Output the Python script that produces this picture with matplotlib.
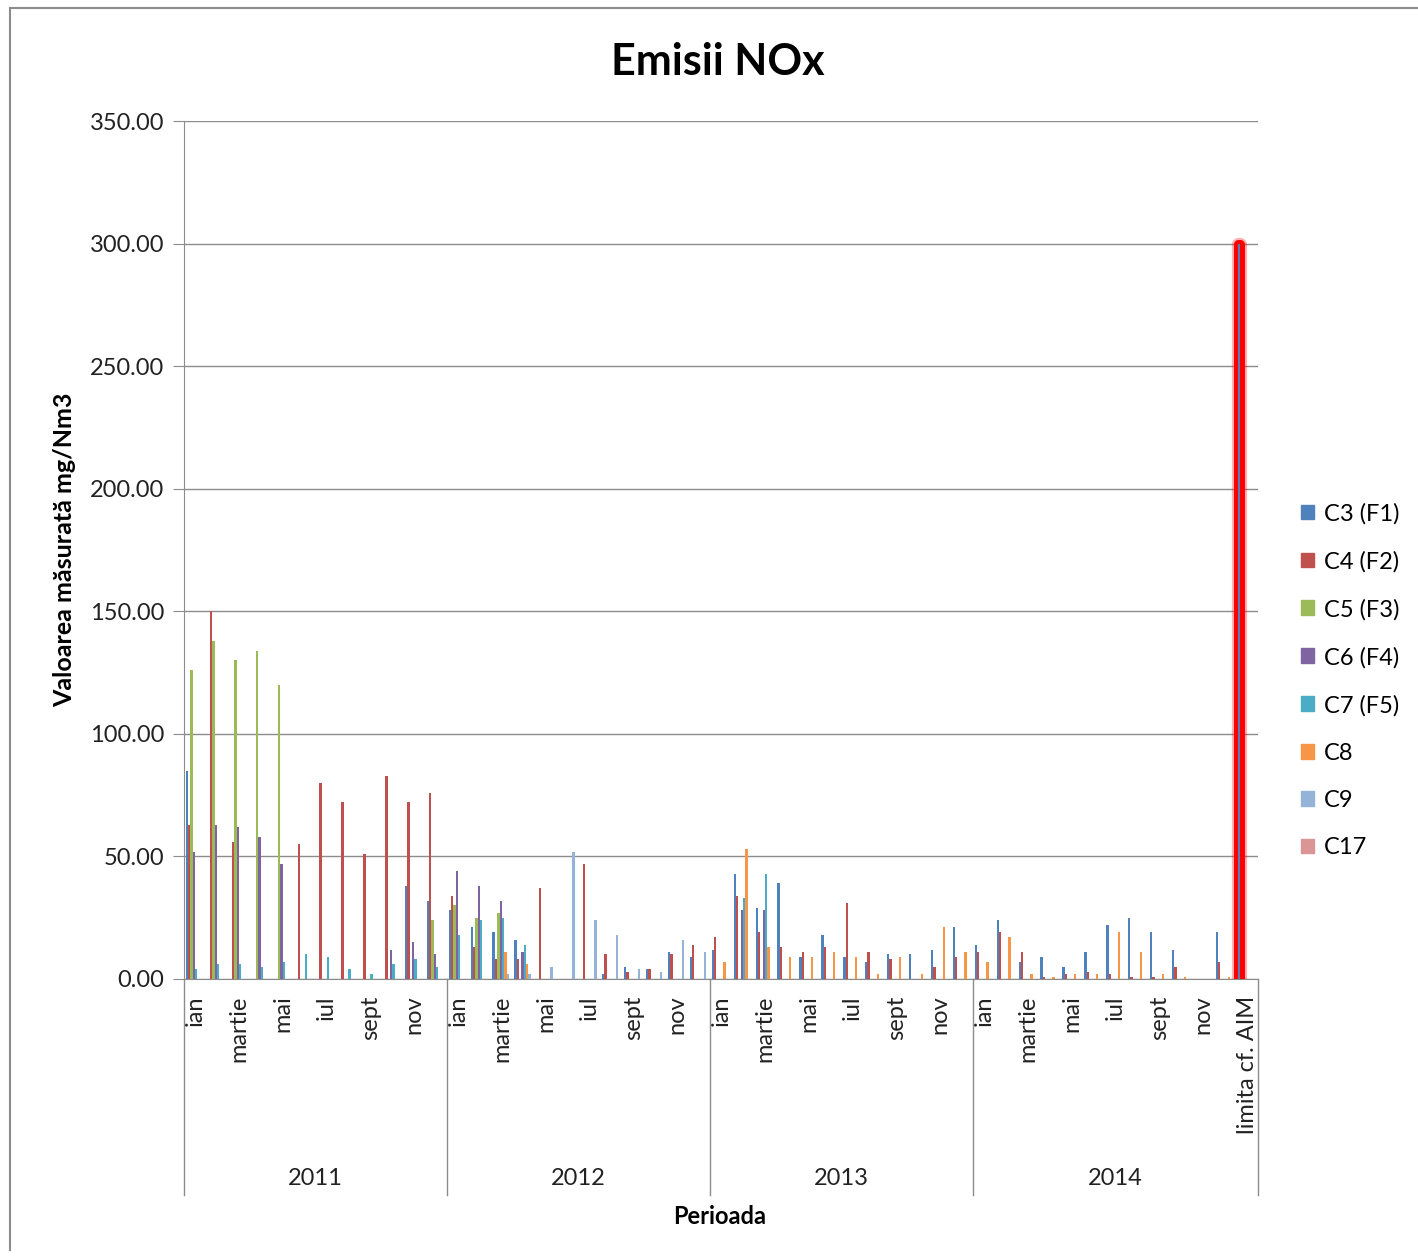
import numpy as np
import matplotlib
matplotlib.use('Agg')
import matplotlib.pyplot as plt
import matplotlib.patheffects as pe
from matplotlib.patches import Patch

plt.rcParams['font.family'] = ['Lato', 'DejaVu Sans']

years = ['2011', '2012', '2013', '2014']
luni = ['ian', 'feb', 'martie', 'apr', 'mai', 'iun', 'iul', 'aug', 'sept', 'oct', 'nov', 'dec']
limita_label = 'limita cf. AIM'

serii = ['C3 (F1)', 'C4 (F2)', 'C5 (F3)', 'C6 (F4)', 'C7 (F5)', 'C8', 'C9', 'C17']
culori = ['#4F81BD', '#C0504D', '#9BBB59', '#8064A2', '#4BACC6', '#F79646', '#95B3D7', '#D99694']

# valori lunare 2011..2014 (48 luni) + limita AIM la final
c3 = [85, 0, 0, 0, 0, 0, 0, 0, 0, 0, 38, 32,
      28, 21, 19, 16, 0, 0, 0, 2, 5, 4, 11, 9,
      12, 43, 29, 39, 9, 18, 9, 7, 10, 10, 12, 21,
      14, 24, 7, 9, 5, 11, 22, 25, 19, 12, 0, 19,
      300]
c4 = [63, 150, 56, 0, 0, 55, 80, 72, 51, 83, 72, 76,
      34, 13, 8, 8, 37, 0, 47, 10, 3, 4, 10, 14,
      17, 34, 19, 13, 11, 13, 31, 11, 8, 0, 5, 9,
      11, 19, 11, 1, 2, 3, 2, 1, 1, 5, 0, 7,
      0]
c5 = [126, 138, 130, 134, 120, 0, 0, 0, 0, 0, 0, 24,
      30, 25, 27, 0, 0, 0, 0, 0, 0, 0, 0, 0,
      0, 0, 0, 0, 0, 0, 0, 0, 0, 0, 0, 0,
      0, 0, 0, 0, 0, 0, 0, 0, 0, 0, 0, 0,
      0]
c6 = [52, 63, 62, 58, 47, 0, 0, 0, 0, 12, 15, 10,
      44, 38, 32, 11, 0, 0, 0, 0, 0, 0, 0, 0,
      0, 28, 28, 0, 0, 0, 0, 0, 0, 0, 0, 0,
      0, 0, 0, 0, 0, 0, 0, 0, 0, 0, 0, 0,
      0]
c7 = [4, 6, 6, 5, 7, 10, 9, 4, 2, 6, 8, 5,
      18, 24, 25, 14, 0, 0, 0, 0, 0, 0, 0, 0,
      0, 33, 43, 0, 0, 0, 0, 0, 0, 0, 0, 0,
      0, 0, 0, 0, 0, 0, 0, 0, 0, 0, 0, 0,
      0]
c8 = [0, 0, 0, 0, 0, 0, 0, 0, 0, 0, 0, 0,
      0, 0, 11, 6, 0, 0, 0, 0, 0, 0, 0, 0,
      7, 53, 13, 9, 9, 11, 9, 2, 9, 2, 21, 11,
      7, 17, 2, 1, 2, 2, 19, 11, 2, 1, 0, 1,
      0]
c9 = [0, 0, 0, 0, 0, 0, 0, 0, 0, 0, 0, 0,
      0, 0, 2, 2, 5, 52, 24, 18, 4, 3, 16, 11,
      0, 0, 0, 0, 0, 0, 0, 0, 0, 0, 0, 0,
      0, 0, 0, 0, 0, 0, 0, 0, 0, 0, 0, 0,
      0]
c17 = [0] * 49

valori = [c3, c4, c5, c6, c7, c8, c9, c17]

fig = plt.figure(figsize=(14.18, 12.58), dpi=100)
ax = fig.add_axes([0.1298, 0.2218, 0.7574, 0.682])

x = np.arange(49)
w = 0.107
for i, v in enumerate(valori):
    bars = ax.bar(x + (i - 3.5) * w, v, width=w, color=culori[i], linewidth=0, label=serii[i], zorder=3)
    if i == 0:
        # bara limitei: conturata cu rosu
        bars[-1].set_path_effects([pe.Stroke(linewidth=9.5, foreground='red', alpha=0.3, joinstyle='round'),
                                   pe.Stroke(linewidth=6.5, foreground='#FF0000', joinstyle='round'),
                                   pe.Normal()])

ax.set_xlim(-0.5, 48.5)
ax.set_ylim(0, 350)
ax.set_yticks(np.arange(0, 351, 50))
ax.set_yticklabels(['%.2f' % t for t in np.arange(0, 351, 50)], fontsize=17, color='#222222')
ax.grid(axis='y', color='#8C8C8C', linewidth=1, zorder=0)
ax.tick_params(axis='y', length=8, color='#8C8C8C', pad=6)

etichete = []
for y in years:
    for k, m in enumerate(luni):
        etichete.append(m if k % 2 == 0 else '')
etichete.append(limita_label)
ax.set_xticks(x)
ax.set_xticklabels(etichete, rotation=90, fontsize=17, va='top', color='#222222')
ax.tick_params(axis='x', length=0, pad=12)

for s in ['top', 'right']:
    ax.spines[s].set_visible(False)
ax.spines['left'].set_color('#8C8C8C')
ax.spines['bottom'].set_color('#8C8C8C')

# separatoare ani si etichete ani
tr = ax.get_xaxis_transform()
for b in [-0.5, 11.5, 23.5, 35.5, 48.5]:
    ax.plot([b, b], [0, -0.252], color='#8C8C8C', linewidth=1, transform=tr, clip_on=False)
for j, y in enumerate(years):
    hi = 12 * j + 11.5 if j < 3 else 48.5
    ax.text((12 * j - 0.5 + hi) / 2, -0.232, y, transform=tr, ha='center', va='center', fontsize=17, color='#222222')

ax.set_ylabel('Valoarea măsurată mg/Nm3', fontsize=18, fontweight='bold', labelpad=10)
fig.text(720 / 1418, 1 - 1217 / 1258, 'Perioada', ha='center', va='center', fontsize=17, fontweight='bold')
fig.text(718 / 1418, 1 - 62 / 1258, 'Emisii NOx', ha='center', va='center', fontsize=31, fontweight='bold')

handles = [Patch(color=c) for c in culori]
ax.legend(handles, serii, loc='center left', bbox_to_anchor=(0.9172, 0.459), bbox_transform=fig.transFigure,
          frameon=False, fontsize=17, handlelength=0.58, handleheight=0.58, handletextpad=0.4, labelspacing=1.12,
          borderaxespad=0, borderpad=0)

# chenar exterior
fig.add_artist(plt.Line2D([10 / 1418, 10 / 1418], [1 - 8 / 1258, 1 - 1250 / 1258], color='#8C8C8C', linewidth=1.5))
fig.add_artist(plt.Line2D([10 / 1418, 1], [1 - 8 / 1258, 1 - 8 / 1258], color='#8C8C8C', linewidth=1.5))

plt.savefig('out.png')
